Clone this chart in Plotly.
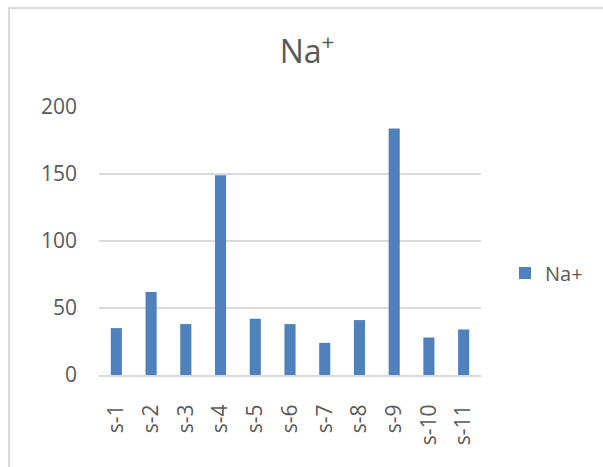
import plotly.graph_objects as go

# Sodium concentration per sample
samples = ["s-1", "s-2", "s-3", "s-4", "s-5", "s-6", "s-7", "s-8", "s-9", "s-10", "s-11"]
na_values = [35, 62, 38, 149, 42, 38, 24, 41, 184, 28, 34]
y_ticks = [0, 50, 100, 150, 200]

W, H = 603, 467
L, R, T, B = 99, 122, 107, 92  # plot-area margins in px

text_col = "#595959"
grid_col = "#d9d9d9"
font_family = "Open Sans, Liberation Sans, sans-serif"

fig = go.Figure()
fig.add_trace(go.Bar(
    x=samples,
    y=na_values,
    name="Na+",
    marker=dict(color="#4f81bd", line=dict(width=0)),
))

# px -> paper coordinate helpers for the outer frame
pw, ph = W - L - R, H - T - B
def px_x(px):
    return (px - L) / pw
def px_y(py):
    return 1 - (py - T) / ph

fig.add_shape(
    type="rect", xref="paper", yref="paper",
    x0=px_x(9), x1=px_x(640), y0=px_y(8), y1=px_y(520),
    line=dict(color=grid_col, width=2), fillcolor="rgba(0,0,0,0)",
    layer="below",
)

fig.update_layout(
    width=W, height=H,
    margin=dict(l=L, r=R, t=T, b=B, pad=0),
    paper_bgcolor="white", plot_bgcolor="white",
    font=dict(family=font_family, color=text_col, size=20),
    title=dict(
        text="Na<sup>+</sup>",
        xref="container", yref="container",
        x=307 / W, xanchor="center",
        y=1 - 52 / H, yanchor="middle",
        font=dict(size=32, color=text_col, family=font_family),
    ),
    bargap=0.68,
    showlegend=True,
    legend=dict(
        xref="container", yref="container",
        x=505 / W, xanchor="left",
        y=1 - 273 / H, yanchor="middle",
        font=dict(size=20, color=text_col, family=font_family),
        bgcolor="rgba(0,0,0,0)",
    ),
    xaxis=dict(
        type="category",
        tickangle=-90,
        showgrid=False,
        showline=True, linecolor=grid_col, linewidth=2,
        ticks="",
        ticklabelstandoff=19,
        tickfont=dict(size=21, color=text_col),
    ),
    yaxis=dict(
        range=[0, 200],
        tickvals=y_ticks,
        showgrid=True, gridcolor=grid_col, gridwidth=1.5,
        zeroline=False, showline=False,
        ticks="",
        ticklabelstandoff=21,
        tickfont=dict(size=21, color=text_col),
    ),
)

fig.write_html("out.html")
